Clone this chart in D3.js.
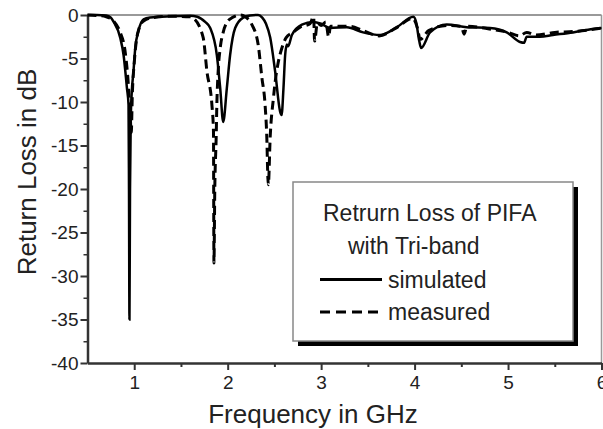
<!DOCTYPE html>
<html>
<head>
<meta charset="utf-8">
<script src="https://cdn.jsdelivr.net/npm/d3@7"></script>
<style>
  body { margin: 0; background: #fff; }
  text { font-family: "Liberation Sans", Arial, sans-serif; fill: #222; }
</style>
</head>
<body>
<div id="chart"></div>
<script>
// frequencies (GHz) and return loss (dB)
var simFreq = [0.5, 0.6, 0.7, 0.75, 0.78, 0.85, 0.886, 0.922, 0.939, 0.944, 0.949, 0.955, 0.963, 0.973, 0.992, 1.011, 1.046, 1.1, 1.17, 1.385, 1.6,
    1.674, 1.759, 1.813, 1.884, 1.92, 1.952, 1.991, 2.026, 2.08, 2.166, 2.24, 2.326, 2.37, 2.41, 2.455, 2.508, 2.561, 2.577, 2.597, 2.615, 2.633, 2.647, 2.687, 2.794,
    2.914, 3.0, 3.096, 3.275, 3.449, 3.631, 3.81, 3.987, 4.016, 4.05, 4.07, 4.166, 4.344, 4.558, 4.807, 4.986, 5.128, 5.17, 5.2, 5.34, 5.48, 5.694, 5.908, 6.0];
var simVals = [0, 0, -0.05, -0.3, -0.8, -2.6, -4.6, -8.4, -10.3, -20, -35, -20, -12, -9, -6.5, -3.8, -1.8, -0.5, -0.3, -0.15, -0.1,
    -0.2, -0.8, -1.5, -4.6, -8.4, -12.3, -8.4, -4.6, -1.5, -0.3, -0.05, 0, -0.3, -1.0, -2.6, -6.5, -11.1, -11.5, -8.4, -4.6, -3.4, -3.6, -2.3, -1.1,
    -0.8, -1.0, -1.5, -1.4, -2.0, -2.3, -1.4, -0.2, -0.8, -3.0, -3.8, -2.0, -1.1, -1.4, -1.5, -2.0, -3.1, -3.2, -2.5, -2.5, -2.3, -2.0, -1.6, -1.5];

var measFreq = [0.5, 0.6, 0.7, 0.78, 0.85, 0.9, 0.93, 0.955, 0.968, 0.98, 1.0, 1.02, 1.05, 1.1, 1.2, 1.4, 1.6,
    1.631, 1.738, 1.778, 1.831, 1.848, 1.853, 1.862, 1.877, 1.884, 1.898, 1.92, 1.952, 1.984, 2.05, 2.134, 2.187,
    2.259, 2.326, 2.366, 2.4, 2.419, 2.43, 2.435, 2.455, 2.49, 2.508, 2.54, 2.58, 2.626, 2.7, 2.775,
    2.88, 2.92, 2.93, 2.96, 3.0, 3.05, 3.08, 3.1, 3.3, 3.45, 3.62, 3.8, 3.98, 4.03, 4.06, 4.15, 4.35, 4.5, 4.53, 4.56, 4.8, 5.0, 5.12, 5.2, 5.3, 5.5, 5.7, 6.0];
var measVals = [0, -0.05, -0.2, -0.7, -2.0, -4, -7, -11, -13.5, -9, -5.5, -3.2, -1.6, -0.7, -0.3, -0.15, -0.2,
    -0.35, -2.6, -6.5, -10.3, -13.4, -28.5, -20, -14, -10.3, -6.5, -3.8, -2.0, -1.0, -0.3, 0, -0.2,
    -1.1, -3.4, -7.2, -10.3, -14.2, -18.7, -19.5, -14, -9.5, -7.7, -5.5, -3.8, -2.6, -2.0, -1.4,
    -1.0, -0.2, -3.0, -0.9, -1.2, -0.8, -2.5, -1.3, -1.3, -1.8, -2.4, -1.5, -0.4, -1.5, -2.8, -1.8, -1.2, -1.3, -2.2, -1.3, -1.6, -2.0, -2.4, -2.0, -2.3, -2.0, -1.9, -1.5];

var xTicks = [1, 2, 3, 4, 5, 6];
var yTicks = [0, -5, -10, -15, -20, -25, -30, -35, -40];
var legendTitle = ["Retrurn Loss of PIFA", "with Tri-band"];
var seriesNames = ["simulated", "measured"];

var width = 603, height = 429;
var margin = {top: 15, right: 1.5, bottom: 66, left: 87.5};

var svg = d3.select("#chart").append("svg")
    .attr("width", width)
    .attr("height", height);

var x = d3.scaleLinear()
    .domain([0.5, 6])
    .range([margin.left, width - margin.right]);

var y = d3.scaleLinear()
    .domain([-40, 0])
    .range([height - margin.bottom, margin.top]);

// frame: gray top and right
svg.append("line")
    .attr("x1", x(0.5)).attr("x2", x(6))
    .attr("y1", y(0)).attr("y2", y(0))
    .style("stroke", "#999").style("stroke-width", 2);
svg.append("line")
    .attr("x1", x(6)).attr("x2", x(6))
    .attr("y1", y(0)).attr("y2", y(-40))
    .style("stroke", "#999").style("stroke-width", 1.5);

// minor ticks
svg.append("g")
    .attr("transform", "translate(0," + y(-40) + ")")
    .call(d3.axisBottom(x).tickValues([1.5, 2.5, 3.5, 4.5, 5.5]).tickSize(4).tickFormat(""))
    .call(function(g) { g.select(".domain").remove(); })
    .selectAll("line").style("stroke", "#333").style("stroke-width", 2);
svg.append("g")
    .attr("transform", "translate(" + x(0.5) + ",0)")
    .call(d3.axisLeft(y).tickValues(d3.range(-37.5, 0, 5)).tickSize(4).tickFormat(""))
    .call(function(g) { g.select(".domain").remove(); })
    .selectAll("line").style("stroke", "#333").style("stroke-width", 1.5);

var plain = function(d) { return String(d) };

var xAxis = svg.append("g")
    .attr("transform", "translate(0," + y(-40) + ")")
    .call(d3.axisBottom(x).tickValues(xTicks).tickFormat(plain).tickSize(7).tickPadding(6).tickSizeOuter(0));
var yAxis = svg.append("g")
    .attr("transform", "translate(" + x(0.5) + ",0)")
    .call(d3.axisLeft(y).tickValues(yTicks).tickFormat(plain).tickSize(7).tickPadding(2).tickSizeOuter(0));

[xAxis, yAxis].forEach(function(a) {
    a.select(".domain").style("stroke", "#333").style("stroke-width", 2.5);
    a.selectAll(".tick line").style("stroke", "#333").style("stroke-width", 2);
    a.selectAll(".tick text")
	.style("font-family", "Liberation Sans, Arial, sans-serif")
	.style("font-size", "19px")
	.style("fill", "#222");
});

// curves
var line = d3.line()
    .x(function(d) { return x(d[0]) })
    .y(function(d) { return y(d[1]) })
    .curve(d3.curveMonotoneX);

svg.append("path")
    .datum(d3.zip(measFreq, measVals))
    .attr("d", line)
    .attr("fill", "none")
    .style("stroke", "#000")
    .style("stroke-width", 3)
    .style("stroke-dasharray", "9,5");

svg.append("path")
    .datum(d3.zip(simFreq, simVals))
    .attr("d", line)
    .attr("fill", "none")
    .style("stroke", "#000")
    .style("stroke-width", 2.5);

// legend box with shadow
var lg = svg.append("g");
lg.append("rect")
    .attr("x", 298).attr("y", 187)
    .attr("width", 280).attr("height", 159)
    .style("fill", "#000");
lg.append("rect")
    .attr("x", 293).attr("y", 182)
    .attr("width", 280).attr("height", 159)
    .style("fill", "#fff")
    .style("stroke", "#888")
    .style("stroke-width", 1.5);

lg.selectAll("text.title")
    .data(legendTitle).enter()
    .append("text")
    .attr("class", "title")
    .attr("x", function(d, i) { return i == 0 ? 323 : 348 })
    .attr("y", function(d, i) { return 221 + i * 33 })
    .style("font-size", "23px")
    .text(function(d) { return d });

var entries = lg.selectAll("g.entry")
    .data(seriesNames).enter()
    .append("g")
    .attr("class", "entry")
    .attr("transform", function(d, i) { return "translate(0," + (279.5 + i * 32.5) + ")" });

entries.append("line")
    .attr("x1", 320).attr("x2", 382)
    .attr("y1", 0).attr("y2", 0)
    .style("stroke", "#000")
    .style("stroke-width", 3)
    .style("stroke-dasharray", function(d, i) { return i == 1 ? "10,6" : null });

entries.append("text")
    .attr("x", 388)
    .attr("y", 8)
    .style("font-size", "23px")
    .text(function(d) { return d });

// axis titles
svg.append("text")
    .attr("text-anchor", "middle")
    .attr("transform", "translate(313,423)")
    .style("font-size", "26px")
    .text("Frequency in GHz");

svg.append("text")
    .attr("text-anchor", "middle")
    .attr("transform", "translate(36,172) rotate(-90)")
    .style("font-size", "26px")
    .text("Return Loss in dB");
</script>
</body>
</html>
